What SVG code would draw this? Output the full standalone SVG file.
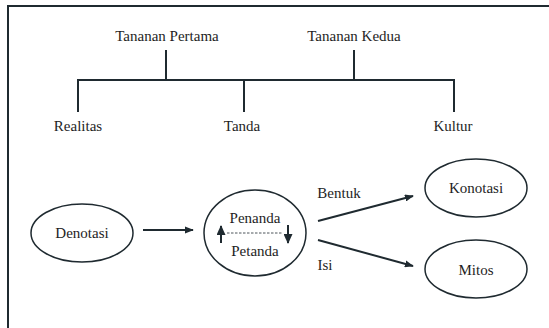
<svg xmlns="http://www.w3.org/2000/svg" width="549" height="328" viewBox="0 0 549 328">
<style>
text{font-size:15px;fill:#1e1e1e;text-anchor:middle}
.ln{stroke:#1f2a30;stroke-width:2;fill:none}
.el{stroke:#1f2a30;stroke-width:1.5;fill:#fff}
</style>
<defs>
<marker id="ah" viewBox="0 0 10 8" refX="9" refY="4" markerWidth="4.5" markerHeight="3.6" orient="auto" markerUnits="strokeWidth">
<path d="M0,0 L10,4 L0,8 z" fill="#1f2a30"/>
</marker>
<marker id="ahs" viewBox="0 0 10 9" refX="9" refY="4.5" markerWidth="5" markerHeight="4.5" orient="auto" markerUnits="strokeWidth">
<path d="M0,0 L10,4.5 L0,9 z" fill="#1f2a30"/>
</marker>
</defs>
<rect width="549" height="328" fill="#fff"/>
<path class="ln" d="M8,330 V6 H551"/>
<g font-family="'Liberation Serif', 'DejaVu Serif', serif">
<g id="connectors">
<path class="ln" d="M166,50 V80 M354,50 V80 M78,112 V80 H454 V112 M244,80 V112"/>
<line class="ln" x1="143" y1="230" x2="193" y2="230" marker-end="url(#ah)"/>
<line class="ln" x1="318" y1="221" x2="413" y2="196" marker-end="url(#ah)"/>
<line class="ln" x1="318" y1="240" x2="413" y2="266" marker-end="url(#ah)"/>
<text x="339" y="198">Bentuk</text>
<text x="325" y="270">Isi</text>
</g>
<g id="tananan-pertama"><text x="167" y="41">Tananan Pertama</text></g>
<g id="tananan-kedua"><text x="354" y="41">Tananan Kedua</text></g>
<g id="realitas"><text x="78" y="131">Realitas</text></g>
<g id="tanda"><text x="242" y="131">Tanda</text></g>
<g id="kultur"><text x="453" y="131">Kultur</text></g>
<g id="denotasi"><ellipse class="el" cx="82" cy="233" rx="51" ry="29"/><text x="82" y="238">Denotasi</text></g>
<g id="penanda-petanda">
<ellipse class="el" cx="255" cy="233" rx="51" ry="43"/>
<text x="255" y="223">Penanda</text>
<text x="255" y="256">Petanda</text>
<line x1="227" y1="233" x2="283" y2="233" stroke="#1f2a30" stroke-width="0.8" stroke-dasharray="2.5,1.5"/>
<line class="ln" x1="221" y1="243" x2="221" y2="226" marker-end="url(#ahs)" stroke-width="1.6"/>
<line class="ln" x1="288" y1="225" x2="288" y2="243" marker-end="url(#ahs)" stroke-width="1.6"/>
</g>
<g id="konotasi"><ellipse class="el" cx="476" cy="188" rx="51" ry="29"/><text x="476" y="193">Konotasi</text></g>
<g id="mitos"><ellipse class="el" cx="476" cy="269" rx="51" ry="29"/><text x="476" y="275">Mitos</text></g>
</g>
</svg>
